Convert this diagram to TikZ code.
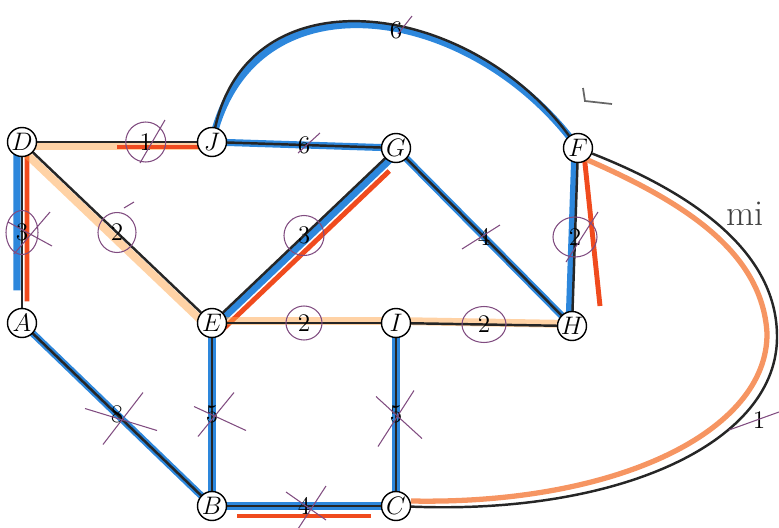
\documentclass[tikz,border=0pt]{standalone}
\usetikzlibrary{calc,backgrounds}
\definecolor{kekszin}{RGB}{45,135,220}
\definecolor{pirosszin}{RGB}{240,75,30}
\definecolor{narancsszin}{RGB}{245,130,70}
\tikzset{
  csucs/.style={circle,draw,thick,fill=white,inner sep=0pt,minimum size=0.58cm,font=\Large},
  el/.style={line width=1.4pt,draw=black!85},
  kek/.style={line width=4pt,draw=kekszin},
  piros/.style={line width=2.8pt,draw=pirosszin},
  narancs/.style={line width=4.5pt,draw=orange!70,opacity=.5},
  suly/.style={font=\Large,inner sep=1pt},
  ceruza/.style={draw=gray!60!violet,line width=.6pt},
}

\begin{document}
\begin{tikzpicture}[x=0.02cm,y=-0.02cm]
  \useasboundingbox (0,0) rectangle (779,528);
  % csucsok
  \node[csucs] (D) at (22,142) {$D$};
  \node[csucs] (J) at (212,142) {$J$};
  \node[csucs] (G) at (396,148) {$G$};
  \node[csucs] (F) at (578,148) {$F$};
  \node[csucs] (A) at (22,323) {$A$};
  \node[csucs] (E) at (212,323) {$E$};
  \node[csucs] (I) at (396,323) {$I$};
  \node[csucs] (H) at (572,326) {$H$};
  \node[csucs] (B) at (212,506) {$B$};
  \node[csucs] (C) at (396,506) {$C$};
  \coordinate (R) at (777,335);
  \coordinate (Rb) at (767,333);
  \begin{scope}[on background layer]
    % szines kiemelesek
    \draw[narancs] ($(D)+(0,4)$) -- ($(J)+(0,4)$);
    \draw[piros] ($(D)!.5!(J)+(0,5)$) -- ($(J)+(-10,5)$);
    \draw[kek] ($(D)+(-5,0)$) -- ($(D)!.82!(A)+(-5,0)$);
    \draw[piros] ($(D)+(5,0)$) -- ($(D)!.88!(A)+(5,0)$);
    \draw[narancs] ($(D)+(-4,4)$) -- ($(E)+(-4,4)$);
    \draw[kek] ($(E)+(3,3)$) -- ($(G)+(3,3)$);
    \draw[piros] ($(E)+(8,9)$) -- ($(E)!.92!(G)+(8,9)$);
    \draw[kek] (J.center) -- (G.center);
    \draw[kek] (G.center) -- (H.center);
    \draw[kek] (J.center) .. controls (250,-30) and (470,0) .. (F.center);
    \draw[kek] ($(F)+(-3,0)$) -- ($(H)+(-3,0)$);
    \draw[piros] ($(F)+(6,6)$) -- ($(H)+(28,-20)$);
    \draw[narancs] ($(E)+(0,-2)$) -- ($(I)+(0,-2)$);
    \draw[narancs] ($(I)+(0,-2)$) -- ($(H)+(0,-2)$);
    \draw[kek] (A.center) -- (B.center);
    \draw[kek] (E.center) -- (B.center);
    \draw[kek] (I.center) -- (C.center);
    \draw[kek] (B.center) -- (C.center);
    \draw[piros] ($(B)+(25,10)$) -- ($(C)+(-25,10)$);
    \draw[narancs,draw=narancsszin,line width=3pt,opacity=.85] ($(F)+(5,10)$)
      .. controls (680,200) and (762,250) .. (Rb)
      .. controls (768,432) and (615,505) .. ($(C)+(15,-5)$);
    % elek
    \draw[el] (D) -- (J) node[suly,pos=.68] (wDJ) {1};
    \draw[el] (J) -- (G) node[suly,midway] (wJG) {6};
    \draw[el] (J) .. controls (250,-30) and (470,0) .. (F);
    \draw[el] (D) -- (A) node[suly,midway] (wDA) {3};
    \draw[el] (D) -- (E) node[suly,midway] (wDE) {2};
    \draw[el] (E) -- (G) node[suly,midway] (wEG) {3};
    \draw[el] (G) -- (H) node[suly,midway] (wGH) {4};
    \draw[el] (F) -- (H) node[suly,midway] (wFH) {2};
    \draw[el] (E) -- (I) node[suly,midway] (wEI) {2};
    \draw[el] (I) -- (H) node[suly,midway] (wIH) {2};
    \draw[el] (A) -- (B) node[suly,midway] (wAB) {8};
    \draw[el] (E) -- (B) node[suly,midway] (wEB) {5};
    \draw[el] (I) -- (C) node[suly,midway] (wIC) {5};
    \draw[el] (B) -- (C) node[suly,midway] (wBC) {4};
    \draw[el] (F) .. controls (690,192) and (776,250) .. (R)
      .. controls (779,442) and (620,515) .. (C);
    \node[suly] (wJF) at (396,30) {6};
    \node[suly] (wFC) at (759,420) {1};
  \end{scope}
  % ceruzajelek
  \draw[ceruza] (wDJ) ellipse (20 and 20) (140,163) -- (165,120);
  \draw[ceruza] (wDA) ellipse (16 and 22) (8,222) -- (52,246) (50,212) -- (14,254);
  \draw[ceruza] (wDE) ellipse (19 and 20) (124,208) -- (134,202);
  \draw[ceruza] (wEG) ellipse (20 and 20);
  \draw[ceruza] (wEI) ellipse (18 and 17);
  \draw[ceruza] (wIH) ellipse (22 and 18);
  \draw[ceruza] (wFH) ellipse (22 and 20) (566,262) -- (598,212);
  \draw[ceruza] (wJF) ++(2,4) -- ++(14,-18);
  \draw[ceruza] (wJG) ++(-6,8) -- ++(22,-20);
  \draw[ceruza] (wGH) ++(-22,12) -- ++(38,-24);
  \draw[ceruza] (wFC) ++(-30,10) -- ++(50,-18);
  \draw[ceruza] (wAB) ++(-32,-6) -- ++(72,22) (wAB) ++(26,-22) -- ++(-40,52);
  \draw[ceruza] (wEB) ++(-18,-8) -- ++(52,24) (wEB) ++(22,-22) -- ++(-36,44);
  \draw[ceruza] (wIC) ++(-20,-18) -- ++(46,42) (wIC) ++(18,-24) -- ++(-36,56);
  \draw[ceruza] (wBC) ++(-18,-14) -- ++(40,28) (wBC) ++(22,-20) -- ++(-30,46);
  \draw[ceruza,line width=1pt,black!60] (583,88) -- (585,101) -- (612,104);
  \node[text=black!75,font=\huge] (mi) at (745,214) {mi};
\end{tikzpicture}
\end{document}
